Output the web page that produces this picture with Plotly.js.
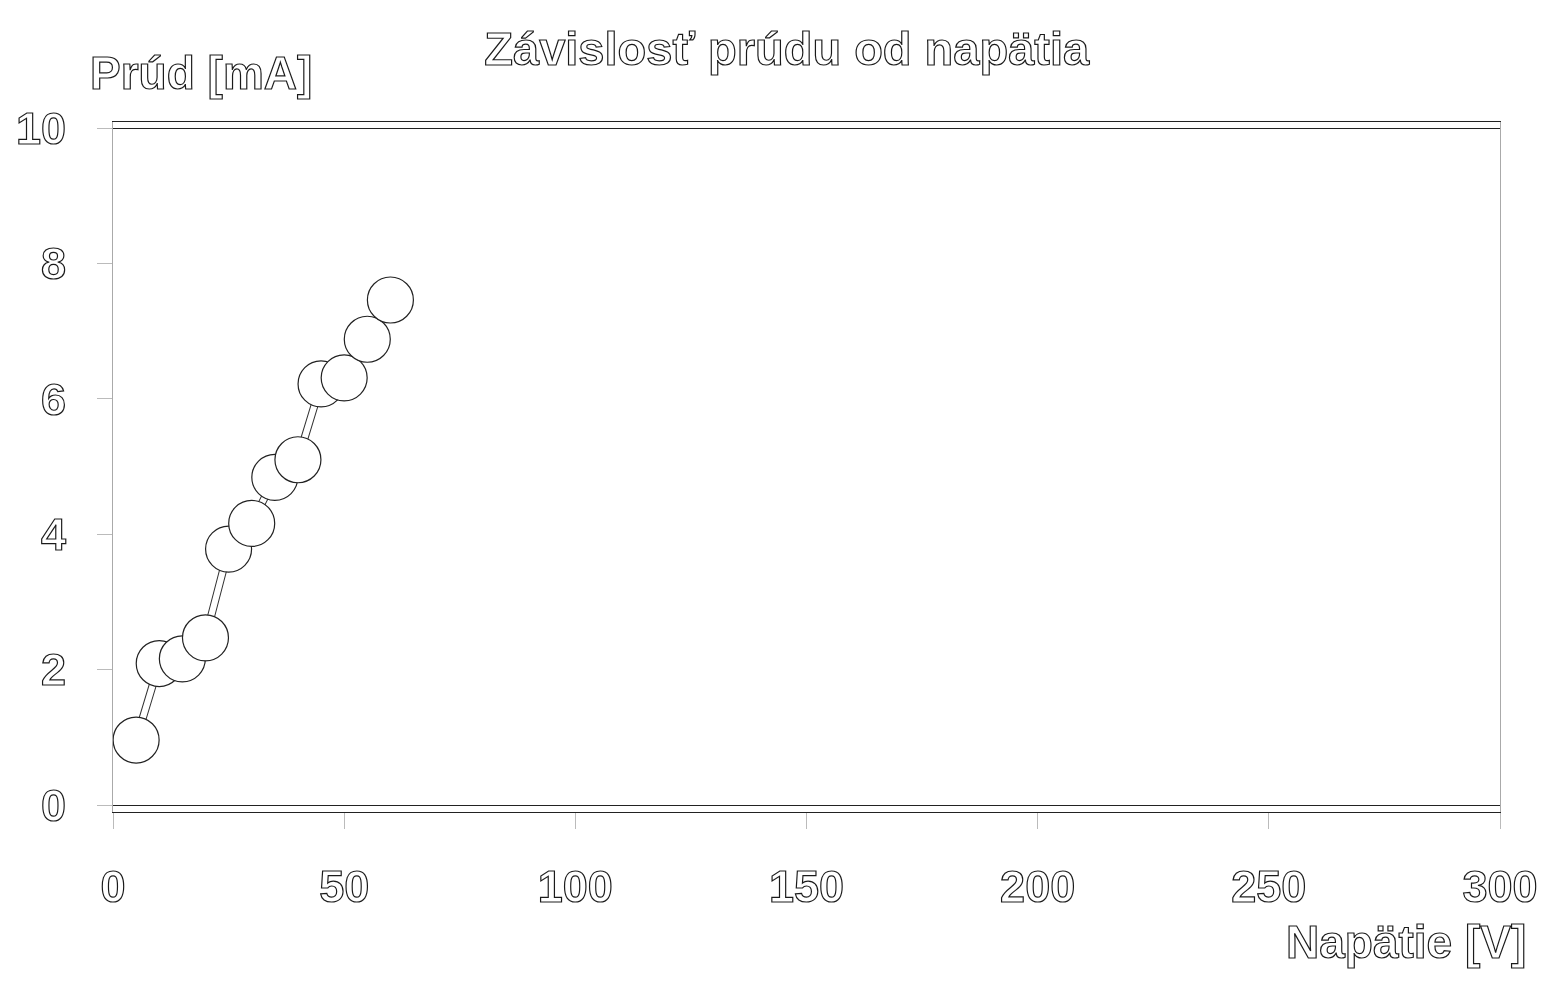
<!DOCTYPE html>
<html>
<head>
<meta charset="utf-8">
<script src="https://cdn.plot.ly/plotly-3.0.1.min.js"></script>
<style>
  html, body { margin: 0; padding: 0; background: #fff; }
  #chart { width: 1561px; height: 987px; filter: grayscale(100%); }
  #chart svg text {
    stroke: #1a1a1a !important; stroke-width: 1.2px;
  }
</style>
</head>
<body>
<div id="chart"></div>
<script>
const titleText = 'Závislosť prúdu od napätia';
const xTitle = 'Napätie [V]';
const yTitle = 'Prúd [mA]';
const voltage = [5, 10, 15, 20, 25, 30, 35, 40, 45, 50, 55, 60];
const current = [0.96, 2.09, 2.16, 2.47, 3.78, 4.16, 4.84, 5.10, 6.22, 6.31, 6.88, 7.46];
const xTicks = [0, 50, 100, 150, 200, 250, 300];
const yTicks = [0, 2, 4, 6, 8, 10];

const FONT = '"Liberation Sans", Arial, sans-serif';

const traces = [
  { x: voltage, y: current, type: 'scatter', mode: 'lines',
    line: { color: '#333', width: 8 }, hoverinfo: 'skip', showlegend: false },
  { x: voltage, y: current, type: 'scatter', mode: 'lines',
    line: { color: '#fff', width: 6 }, hoverinfo: 'skip', showlegend: false },
  { x: voltage, y: current, type: 'scatter', mode: 'markers',
    marker: { size: 46, color: '#fff', line: { color: '#222', width: 1.2 } },
    showlegend: false },
  { x: [], y: [], yaxis: 'y2', type: 'scatter', showlegend: false }
];

const plotW = 1561 - 113 - 61, plotH = 987 - 122 - 175;

const layout = {
  width: 1561, height: 987,
  paper_bgcolor: '#fff', plot_bgcolor: '#fff',
  margin: { l: 113, r: 61, t: 122, b: 175 },
  showlegend: false,
  title: { text: titleText, x: 0.504, xanchor: 'center', y: 0.951, yanchor: 'middle',
           font: { family: FONT, size: 47, weight: 700, color: '#fff' } },
  xaxis: {
    range: [0, 300], tickvals: xTicks, ticktext: xTicks.map(String),
    showgrid: false, zeroline: false,
    showline: true, mirror: true, linecolor: '#222', linewidth: 1,
    ticks: 'outside', ticklen: 16, tickcolor: '#bbb', tickwidth: 1,
    ticklabelstandoff: 19,
    tickfont: { family: FONT, size: 45, weight: 700, color: '#fff' }
  },
  yaxis: {
    range: [-0.103, 10.089], tickvals: yTicks, ticktext: yTicks.map(String),
    showgrid: false, zeroline: false,
    showline: true, mirror: true, linecolor: '#aaa', linewidth: 1,
    ticks: 'outside', ticklen: 15, tickcolor: '#bbb', tickwidth: 1,
    ticklabelstandoff: 22,
    tickfont: { family: FONT, size: 45, weight: 700, color: '#fff' }
  },
  yaxis2: {
    overlaying: 'y', range: [-0.103, 10.089], tickvals: [0, 10],
    showgrid: true, gridcolor: '#222', gridwidth: 1,
    showticklabels: false, zeroline: false, showline: false, ticks: ''
  },
  annotations: [
    { text: yTitle, xref: 'paper', yref: 'paper',
      x: (88 - 113) / plotW, xanchor: 'left',
      y: 1 + (122 - 101) / plotH, yanchor: 'bottom', showarrow: false,
      font: { family: FONT, size: 46, weight: 700, color: '#fff' } },
    { text: xTitle, xref: 'paper', yref: 'paper',
      x: (1528 - 113) / plotW, xanchor: 'right',
      y: -(914 - 812) / plotH, yanchor: 'top', showarrow: false,
      font: { family: FONT, size: 46, weight: 700, color: '#fff' } }
  ]
};

Plotly.newPlot('chart', traces, layout, { displayModeBar: false, staticPlot: true });
</script>
</body>
</html>
